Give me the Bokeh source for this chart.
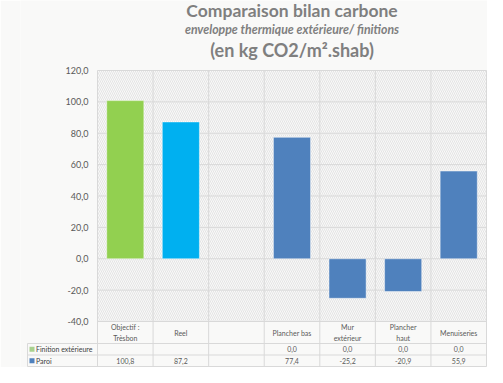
import math
from bokeh.plotting import figure
from bokeh.models import Range1d, FixedTicker, CustomJSTickFormatter, BoxAnnotation, Label
from bokeh.core.properties import value
from bokeh.embed import file_html
from bokeh.resources import INLINE

# ---------------- data ----------------
categories = ["Objectif :\nTrèsbon", "Reel", "", "Plancher bas", "Mur\nextérieur", "Plancher\nhaut", "Menuiseries"]
series_names = ["Finition extérieure", "Paroi"]
finition = [None, None, None, 0.0, 0.0, 0.0, 0.0]
paroi = [100.8, 87.2, None, 77.4, -25.2, -20.9, 55.9]
y_ticks = [-40, -20, 0, 20, 40, 60, 80, 100, 120]
title_lines = ["Comparaison bilan carbone",
               "enveloppe thermique extérieure/ finitions",
               "(en kg CO2/m².shab)"]

# ---------------- styles ----------------
bar_colors = ["#92D050", "#00B0F0", "#4F81BD", "#4F81BD", "#4F81BD", "#4F81BD", "#4F81BD"]
series_colors = ["#A9D18E", "#4F81BD"]
BG = "#f9f9f8"
GRID = "#d9d9d9"
TXT = "#595959"
FONT = "Lato"

# ---------------- layout (pixel geometry of the figure) ----------------
W, H = 487, 367
FRAME_L = 20
CHART_L, CHART_R = 97, 486
CHART_T, CHART_B = 70, 321
HDR_B, ROW1_B, ROW2_B = 343, 354.5, 366
LEG_L = 27
LABEL_R = 88
Y_MIN, Y_MAX = y_ticks[0], y_ticks[-1]

n = len(categories)
cat_w = (CHART_R - CHART_L) / n
ppu = (CHART_B - CHART_T) / (Y_MAX - Y_MIN)


def xd(px):
    return (px - CHART_L) / cat_w


def yd(py):
    return Y_MAX - (py - CHART_T) / ppu


p = figure(width=W, height=H, output_backend="svg", toolbar_location=None, title=None,
           x_range=Range1d(xd(FRAME_L), xd(W)), y_range=Range1d(yd(H), yd(0)),
           min_border=0, min_border_left=FRAME_L, min_border_right=0,
           min_border_top=0, min_border_bottom=0)
p.background_fill_color = BG
p.border_fill_color = BG
p.outline_line_color = None
p.xaxis.visible = False
p.xgrid.visible = False
p.ygrid.visible = False

yax = p.yaxis[0]
yax.ticker = FixedTicker(ticks=y_ticks)
yax.formatter = CustomJSTickFormatter(code="return tick.toFixed(1).replace('.', ',');")
yax.axis_line_color = None
yax.major_tick_line_color = None
yax.minor_tick_line_color = None
yax.major_tick_out = 0
yax.major_tick_in = 0
yax.major_label_standoff = -(LABEL_R - FRAME_L)
yax.major_label_text_font = FONT
yax.major_label_text_font_size = "9px"
yax.major_label_text_color = TXT

# hatched plot area
p.add_layout(BoxAnnotation(left=0, right=n, bottom=Y_MIN, top=Y_MAX, fill_color=None, line_color=None,
                           hatch_pattern="left_diagonal_line", hatch_color="#dedede",
                           hatch_scale=4, hatch_weight=0.8, level="underlay"))

# grid / table lines
x_lo = xd(LEG_L)
hx0 = [0] * len(y_ticks) + [x_lo, x_lo, x_lo]
hx1 = [n] * len(y_ticks) + [n, n, n]
hy = list(y_ticks) + [yd(HDR_B), yd(ROW1_B), yd(ROW2_B)]
p.segment(x0=hx0, y0=hy, x1=hx1, y1=hy, line_color=GRID, line_width=1)
vx = list(range(n + 1)) + [x_lo]
vy0 = [yd(ROW2_B)] * (n + 1) + [yd(ROW2_B)]
vy1 = [Y_MAX] * (n + 1) + [yd(HDR_B)]
p.segment(x0=vx, y0=vy0, x1=vx, y1=vy1, line_color=GRID, line_width=1)

# bars
xs = [i + 0.5 for i in range(n)]
tops = [v if v is not None else math.nan for v in paroi]
p.vbar(x=xs, top=tops, bottom=0, width=0.668, fill_color=bar_colors,
       line_color="white", line_alpha=0.45, line_width=1)
ftops = [v if v is not None else math.nan for v in finition]
p.vbar(x=xs, top=ftops, bottom=0, width=0.668, fill_color=series_colors[0], line_color=None)

# table header
p.text(x=xs, y=[yd((CHART_B + HDR_B) / 2)] * n, text=categories,
       text_font=value(FONT), text_font_size=value("7px"), text_color=TXT,
       text_align="center", text_baseline="middle", text_line_height=1.3)


def fmt(v):
    return "" if v is None else f"{v:.1f}".replace(".", ",")


p.text(x=xs, y=[yd((HDR_B + ROW1_B) / 2)] * n, text=[fmt(v) for v in finition],
       text_font=value(FONT), text_font_size=value("7px"), text_color=TXT,
       text_align="center", text_baseline="middle")
p.text(x=xs, y=[yd((ROW1_B + ROW2_B) / 2)] * n, text=[fmt(v) for v in paroi],
       text_font=value(FONT), text_font_size=value("7px"), text_color=TXT,
       text_align="center", text_baseline="middle")

# legend column
row_y = [yd((HDR_B + ROW1_B) / 2), yd((ROW1_B + ROW2_B) / 2)]
p.scatter(x=[xd(LEG_L + 4.5)] * 2, y=row_y, marker="square", size=5,
          fill_color=series_colors, line_color=None)
p.text(x=[xd(LEG_L + 8.5)] * 2, y=row_y, text=series_names,
       text_font=value(FONT), text_font_size=value("7px"), text_color="#404040",
       text_align="left", text_baseline="middle")

# titles
title_x = xd((CHART_L + CHART_R) / 2)
for txt, py, size, style in zip(title_lines, [10, 29, 49], ["17.5px", "12.3px", "18px"],
                                ["bold", "bold italic", "bold"]):
    p.add_layout(Label(x=title_x, y=yd(py), text=txt, text_align="center", text_baseline="middle",
                       text_font=FONT, text_font_size=size, text_font_style=style,
                       text_color="#7f7f7f"))

open("out.html", "w").write(file_html(p, INLINE))
